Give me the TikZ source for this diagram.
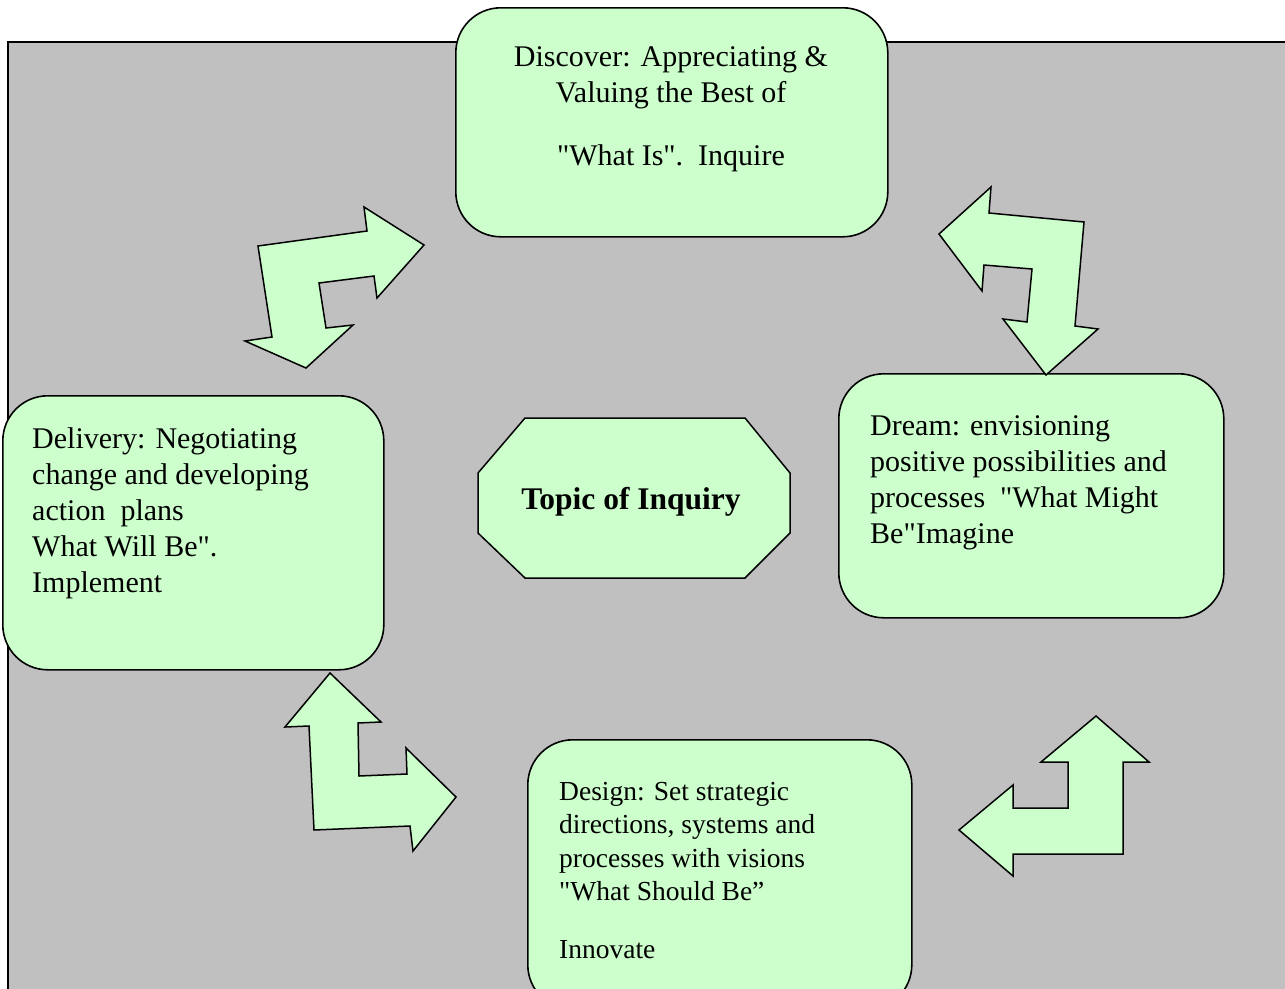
\documentclass[tikz,border=0pt]{standalone}
\usepackage{fontspec}
\setmainfont{Liberation Serif}[Ligatures=TeXOff]
\definecolor{bg}{HTML}{C0C0C0}
\definecolor{pale}{HTML}{CCFFCC}
\tikzset{
  stage/.style={draw=black, fill=pale, line width=1.6pt, rounded corners=45pt, anchor=north west, inner sep=0pt},
  blockarrow/.style={draw=black, fill=pale, line width=1.5pt, line join=miter},
  txt/.style={inner sep=0pt, font=\fontsize{30}{36}\selectfont, align=left, text=black},
  smalltxt/.style={inner sep=0pt, font=\fontsize{27.5}{33.5}\selectfont, align=left, text=black},
}
\begin{document}
\begin{tikzpicture}[x=1pt,y=-1pt]
\useasboundingbox (0,0) rectangle (1285,988);
\clip (0,0) rectangle (1285,988);
\fill[white] (0,0) rectangle (1285,988);
% background panel
\draw[fill=bg, line width=1.8pt] (8,42) rectangle (1300,1010);

% stage boxes
\node[stage, minimum width=432pt, minimum height=229pt] (discover) at (455,7) {};
\node[stage, minimum width=385pt, minimum height=244pt] (dream) at (838,373) {};
\node[stage, minimum width=381pt, minimum height=274pt] (delivery) at (2,395) {};
\node[stage, minimum width=384pt, minimum height=270pt] (design) at (527,739) {};

% centre octagon
\draw[blockarrow] (525,418) -- (745,418) -- (790,473) -- (790,533) -- (745,578)
  -- (525,578) -- (478,533) -- (478,473) -- cycle;
\node[inner sep=0pt, font=\fontsize{31.5}{36}\selectfont\bfseries] (topic) at (631,502) {Topic of Inquiry};

% texts
\node[txt, align=center, anchor=north] (discovertext) at (671,46)
  {Discover: Appreciating \&\\Valuing the Best of\\[27pt]"What Is".\ \ Inquire};
\node[txt, anchor=north west] (dreamtext) at (870,415)
  {Dream: envisioning\\positive possibilities and\\processes\ \ "What Might\\Be"Imagine};
\node[txt, anchor=north west] (deliverytext) at (32,427)
  {Delivery: Negotiating\\change and developing\\action\ \ plans\\What Will Be".\\Implement};
\node[smalltxt, anchor=north west] (designtext) at (559,782)
  {Design: Set strategic\\directions, systems and\\processes with visions\\"What Should Be”\\[24pt]Innovate};

% two-headed bent arrows
\draw[blockarrow] (258,246) -- (367,231) -- (364,207) -- (424,245) -- (377,298)
  -- (374,276) -- (319,283) -- (326,328) -- (353,325) -- (306,368) -- (245,341)
  -- (272,337) -- cycle;
\draw[blockarrow] (991,187) -- (989,213) -- (1084,222) -- (1075,326) -- (1098,329)
  -- (1046,375) -- (1003,319) -- (1027,322) -- (1032,269) -- (984,265)
  -- (982,291) -- (939,234) -- cycle;
\draw[blockarrow] (330,673) -- (381,722) -- (358,723) -- (359,776) -- (407,774)
  -- (406,748) -- (456,797) -- (413,851) -- (410,826) -- (314,830) -- (309,726)
  -- (285,727) -- cycle;
\draw[blockarrow] (1096,716) -- (1149,762) -- (1123,762) -- (1123,854) -- (1013,854)
  -- (1013,876) -- (959,830) -- (1013,785) -- (1013,808) -- (1068,808)
  -- (1068,762) -- (1041,762) -- cycle;
\end{tikzpicture}
\end{document}
